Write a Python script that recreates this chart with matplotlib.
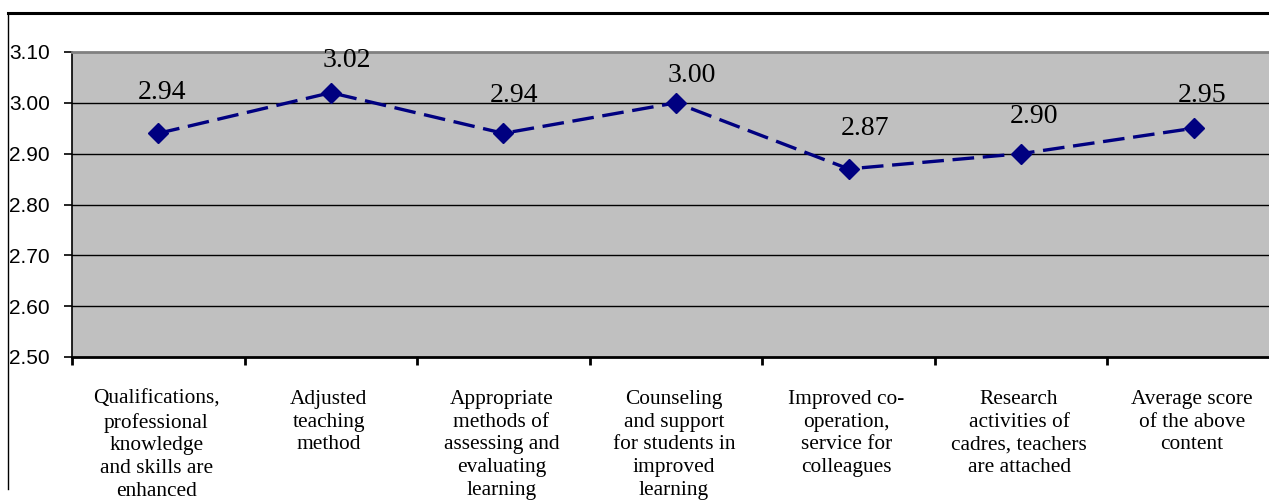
import matplotlib
matplotlib.use("Agg")
import matplotlib.pyplot as plt
from matplotlib.lines import Line2D

categories = [
    "Qualifications,\nprofessional\nknowledge\nand skills are\nenhanced",
    "Adjusted\nteaching\nmethod",
    "Appropriate\nmethods of\nassessing and\nevaluating\nlearning",
    "Counseling\nand support\nfor students in\nimproved\nlearning",
    "Improved co-\noperation,\nservice for\ncolleagues",
    "Research\nactivities of\ncadres, teachers\nare attached",
    "Average score\nof the above\ncontent",
]
scores = [2.94, 3.02, 2.94, 3.00, 2.87, 2.90, 2.95]
value_labels = ["2.94", "3.02", "2.94", "3.00", "2.87", "2.90", "2.95"]
yticks = [2.50, 2.60, 2.70, 2.80, 2.90, 3.00, 3.10]
ytick_labels = ["2.50", "2.60", "2.70", "2.80", "2.90", "3.00", "3.10"]

# label offsets (pixels) relative to point: (dx, dy of text baseline)
label_offsets = [(4, 34), (16, 26), (11, 31), (16, 21), (16, 34), (13, 31), (8, 26)]

W, H = 1269, 504
fig = plt.figure(figsize=(W / 100, H / 100), dpi=100)
fig.patch.set_facecolor("white")

ax_left, ax_top, ax_bottom, ax_w = 72, 52, 357, 1208
ax = fig.add_axes([ax_left / W, (H - ax_bottom) / H, ax_w / W, (ax_bottom - ax_top) / H])
ax.set_facecolor("#C0C0C0")

n = len(scores)
x = list(range(n))
ax.set_xlim(-0.5, n - 0.5)
ax.set_ylim(2.50, 3.10)

for yv in yticks[1:-1]:
    ax.axhline(yv, color="black", lw=1.0, zorder=1)

ax.plot(x, scores, color="#000080", lw=2.4, dashes=(6.5, 2.6), marker="D",
        markersize=10, markerfacecolor="#000080", markeredgecolor="#000080",
        zorder=3, clip_on=False)

for xi, yi, lab, (dx, dy) in zip(x, scores, value_labels, label_offsets):
    ax.annotate(lab, (xi, yi), xytext=(dx, dy), textcoords="offset pixels",
                ha="center", va="baseline", fontsize=20,
                family="Liberation Serif", color="black", zorder=4)

ax.set_yticks(yticks)
ax.set_yticklabels(ytick_labels, family="Liberation Sans", fontsize=15)
ax.tick_params(axis="y", direction="out", length=6, width=1.2, pad=10, colors="black")
ax.set_xticks([i - 0.5 for i in range(n + 1)])
ax.set_xticklabels([])
ax.tick_params(axis="x", direction="out", length=6, width=2.0, colors="black")

ax.spines["left"].set_color("black")
ax.spines["left"].set_linewidth(1.2)
ax.spines["bottom"].set_color("black")
ax.spines["bottom"].set_linewidth(2.0)
ax.spines["top"].set_color("#808080")
ax.spines["top"].set_linewidth(2.0)
ax.spines["right"].set_visible(False)

# category labels below axis
for xi, cat in zip(x, categories):
    xpix = ax_left + (xi + 0.5) * ax_w / n - 2
    fig.text(xpix / W, (H - 390) / H, cat, ha="center", va="top",
             multialignment="center", fontsize=15.4, family="Liberation Serif",
             linespacing=1.26, color="black")

# outer frame lines
fig.add_artist(Line2D([8 / W, 1.0], [(H - 13) / H, (H - 13) / H], color="black", lw=2.2))
fig.add_artist(Line2D([8 / W, 8 / W], [(H - 13) / H, (H - 489) / H], color="black", lw=1.0))

fig.savefig("out.png", dpi=100)
